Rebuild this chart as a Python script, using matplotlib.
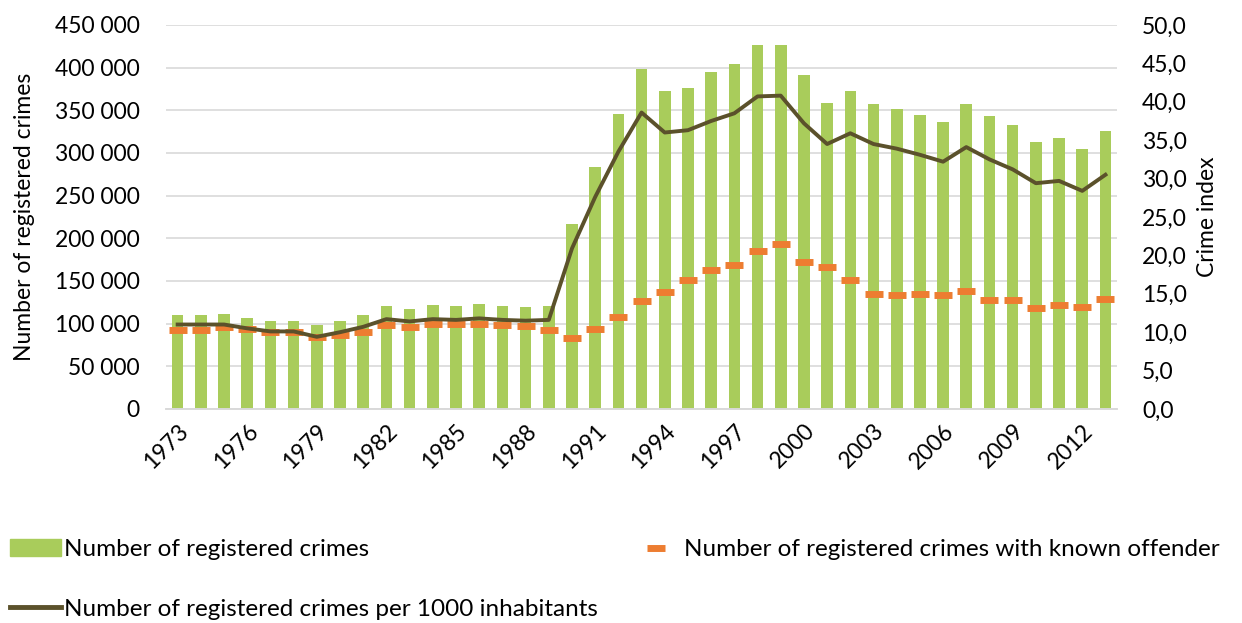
import matplotlib.pyplot as plt
import numpy as np
from matplotlib.ticker import FuncFormatter, MultipleLocator
from matplotlib.lines import Line2D
from matplotlib.patches import Patch

plt.rcParams['font.family'] = ['Lato', 'DejaVu Sans']

years = list(range(1973, 2014))
crimes = [110000, 110000, 111300, 107000, 103100, 103500, 98400, 103500, 110500, 121000,
          117500, 121500, 120700, 122600, 120700, 119900, 121100, 217200, 283200, 345300,
          398400, 372700, 375800, 394900, 404300, 426200, 426900, 391400, 359000, 372700,
          357800, 351900, 344100, 336700, 357000, 343700, 332800, 313300, 317200, 304300,
          325400]
known_offender = [92600, 92600, 96500, 93400, 90200, 89800, 84000, 86700, 90200, 98400,
                  96500, 99600, 99600, 99900, 98000, 97300, 92900, 82800, 93700, 108200,
                  126200, 136700, 151500, 162900, 168700, 184800, 193000, 171900, 166800, 151200,
                  135100, 134000, 135100, 133200, 138300, 127400, 127400, 118000, 121900, 119900,
                  128900]
crime_index = [11.0, 11.0, 11.0, 10.5, 10.1, 10.1, 9.4, 10.0, 10.7, 11.7,
               11.4, 11.7, 11.6, 11.8, 11.6, 11.5, 11.6, 20.9, 27.6, 33.5,
               38.6, 36.0, 36.3, 37.5, 38.5, 40.7, 40.8, 37.2, 34.5, 35.9,
               34.5, 33.9, 33.1, 32.2, 34.1, 32.5, 31.2, 29.4, 29.7, 28.4,
               30.5]

green = '#A9CC5B'
orange = '#ED7D31'
olive = '#5B512B'
fs = 16.5
lfs = 17.5

fig = plt.figure(figsize=(12.42, 6.23), dpi=100)
ax = fig.add_axes([0.1337, 0.3435, 0.7657, 0.6164])
ax2 = ax.twinx()

x = np.arange(len(years))
ax.bar(x, crimes, width=0.5, color=green, zorder=2)
ax.plot(x, known_offender, linestyle='none', marker='_', markersize=13,
        markeredgewidth=5, color=orange, zorder=3)
ax2.plot(x, crime_index, color=olive, linewidth=2.8, zorder=4)

ax.set_xlim(-0.5, len(years) - 0.5)
ax.set_ylim(0, 450000)
ax2.set_ylim(0, 50)
ax.yaxis.set_major_locator(MultipleLocator(50000))
ax2.yaxis.set_major_locator(MultipleLocator(5))
ax.yaxis.set_major_formatter(FuncFormatter(lambda v, p: f'{int(v):,}'.replace(',', ' ')))
ax2.yaxis.set_major_formatter(FuncFormatter(lambda v, p: f'{v:.1f}'.replace('.', ',')))

ax.set_xticks(x[::3])
ax.set_xticklabels([str(y) for y in years[::3]], rotation=45, ha='right',
                   rotation_mode='anchor', fontsize=fs)
ax.tick_params(axis='x', length=0, pad=8)
ax.tick_params(axis='y', length=0, labelsize=fs, pad=19)
ax2.tick_params(axis='y', length=0, labelsize=fs, pad=18)

ax.grid(axis='y', color='#D9D9D9', linewidth=1.2, zorder=0)
ax.set_axisbelow(True)
for a in (ax, ax2):
    for s in ('top', 'left', 'right'):
        a.spines[s].set_visible(False)
    a.spines['bottom'].set_color('#D9D9D9')
    a.spines['bottom'].set_linewidth(1.2)

ax.set_ylabel('Number of registered crimes', fontsize=fs, labelpad=14)
ax2.set_ylabel('Crime index', fontsize=fs, labelpad=7)

h_bar = Patch(color=green)
h_line = Line2D([], [], color=olive, linewidth=3.5)
h_dash = Line2D([], [], linestyle='none', marker='_', markersize=13,
                markeredgewidth=5, color=orange)
leg_kw = dict(frameon=False, fontsize=lfs, handlelength=2.1, handletextpad=0.12,
              borderpad=0, borderaxespad=0, labelspacing=1.6)
fig.legend([h_bar, h_line],
           ['Number of registered crimes',
            'Number of registered crimes per 1000 inhabitants'],
           loc='upper left', bbox_to_anchor=(10 / 1242, 1 - 539 / 623), **leg_kw)
fig.legend([h_dash], ['Number of registered crimes with known offender'],
           loc='upper left', bbox_to_anchor=(630 / 1242, 1 - 539 / 623), **leg_kw)

fig.savefig('out.png', dpi=100)
